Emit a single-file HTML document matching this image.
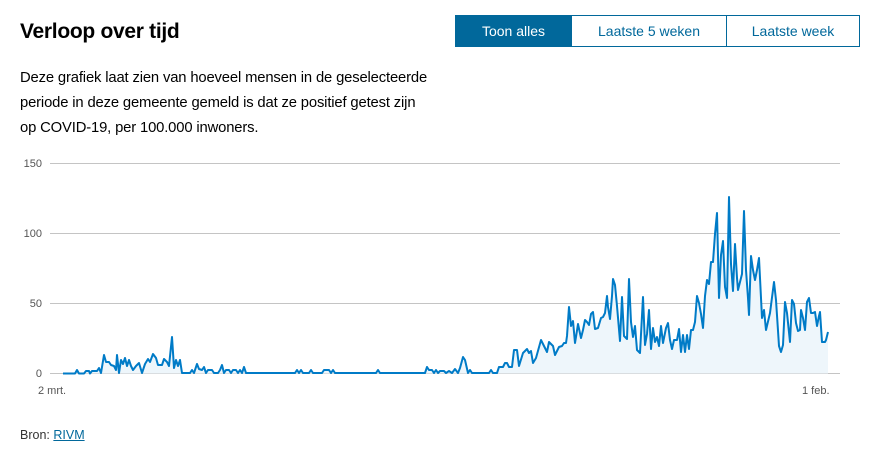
<!DOCTYPE html>
<html><head><meta charset="utf-8"><style>
body{margin:0;width:873px;height:455px;background:#fff;font-family:"Liberation Sans",sans-serif;position:relative;overflow:hidden;color:#000}
.t{position:absolute;left:20px;top:20px;font-size:21px;font-weight:bold;letter-spacing:-0.3px}
.btns{position:absolute;left:455px;top:15px;width:405px;height:32px;border:1px solid #01689b;box-sizing:border-box;display:flex}
.btns div{font-size:14px;color:#01689b;display:flex;align-items:center;justify-content:center;border-right:1px solid #01689b}
.btns div:last-child{border-right:none}
.p{position:absolute;left:20px;top:66px;font-size:14.8px;line-height:25px;letter-spacing:-0.15px;color:#000}
.src{position:absolute;left:20px;top:428px;font-size:12.5px;color:#333}
.src a{color:#01689b;text-decoration:underline}
</style></head><body>
<div class="t">Verloop over tijd</div>
<div class="btns"><div style="width:115px;background:#01689b;color:#fff">Toon alles</div><div style="width:154px">Laatste 5 weken</div><div style="flex:1">Laatste week</div></div>
<div class="p">Deze grafiek laat zien van hoeveel mensen in de geselecteerde<br>periode in deze gemeente gemeld is dat ze positief getest zijn<br>op COVID-19, per 100.000 inwoners.</div>
<svg width="873" height="455" style="position:absolute;left:0;top:0">
<g stroke="#c4c4c4" stroke-width="1">
<line x1="50" x2="840" y1="163.5" y2="163.5"/><line x1="50" x2="840" y1="233.5" y2="233.5"/><line x1="50" x2="840" y1="303.5" y2="303.5"/><line x1="50" x2="840" y1="373.5" y2="373.5"/>
</g>
<g font-size="11" fill="#555" text-anchor="end" font-family="Liberation Sans, sans-serif">
<text x="42" y="167">150</text><text x="42" y="237">100</text><text x="42" y="307">50</text><text x="42" y="377">0</text>
</g>
<text x="38" y="394" font-size="11" fill="#555">2 mrt.</text>
<text x="802" y="394" font-size="11" fill="#555">1 feb.</text>
<polyline fill="#eef6fb" stroke="none" points="63,373.5 75,373.5 77,370 79,373.5 84,373.5 86,371 89,371 90,373.5 92,371 97,371 99,368 101,373 104,355 106,362 109,362 111,365 114,366 116,370 117,355 119,373 121,360 123,364 125,358 127,366 129,360 131,366 133,370 136,366 139,363 142,373 145,364 148,359 150,362 153,354 156,358 158,365 162,365 164,359 167,362 169,366 172,337 174,368 176,360 178,366 180,360 182,373 190,373 192,370 194,373 197,364 199,369 202,370 204,367 206,373 208,370 212,370 214,373 218,373 220,370 222,365 224,373 226,370 229,370 231,373 233,370 236,370 238,373 240,370 242,373 244,367 246,373 295,373 297,370 299,373 301,370 303,373 309,373 311,370 313,373 322,373 324,370 329,370 331,373 333,370 335,373 376,373 378,370 380,373 425,373 427,367 429,370 432,370 434,373 436,370 438,373 440,371 444,371 446,373 449,371 452,373 455,369 458,373 460,368 463,357 465,360 468,373 470,370 472,373 489,373 491,370 493,373 497,373 499,367 503,367 505,363 507,363 509,367 512,367 514,350 517,350 519,366 523,353 525,351 527,349 529,353 531,351 533,363 536,358 541,340 543,344 547,352 549,342 553,346 555,355 559,347 562,346 564,343 566,343 567,336 569,307 571,326 573,321 575,343 576,337 578,324 581,338 583,330 585,320 587,322 589,325 591,314 593,312 595,329 598,328 601,318 603,317 605,313 607,296 608,307 610,319 612,296 613,279 615,285 617,306 620,341 622,297 624,336 627,339 629,279 631,322 633,337 635,326 637,350 640,353 643,297 645,345 647,334 649,310 651,349 653,328 655,342 657,337 659,346 661,326 663,343 666,328 668,323 670,340 672,349 674,340 677,340 679,329 681,352 683,335 685,352 687,335 689,349 691,330 693,330 695,322 697,296 699,303 701,314 703,328 705,296 707,280 709,284 711,262 713,262 715,234 717,213 719,298 721,255 723,241 725,287 727,298 729,197 731,264 733,291 735,244 737,278 738,290 740,282 742,274 744,211 746,270 748,298 749,315 751,256 753,270 755,280 757,270 759,258 762,318 764,310 766,330 770,313 774,282 776,300 779,346 781,352 783,345 785,302 787,313 790,342 792,300 794,304 796,323 798,331 800,330 801,310 803,318 805,330 807,302 809,298 811,313 813,313 815,312 817,326 819,316 820,312 822,342 825,342 826,340 828,332 828,373.5"/>
<polyline fill="none" stroke="#007bc7" stroke-width="2" stroke-linejoin="round" points="63,373.5 75,373.5 77,370 79,373.5 84,373.5 86,371 89,371 90,373.5 92,371 97,371 99,368 101,373 104,355 106,362 109,362 111,365 114,366 116,370 117,355 119,373 121,360 123,364 125,358 127,366 129,360 131,366 133,370 136,366 139,363 142,373 145,364 148,359 150,362 153,354 156,358 158,365 162,365 164,359 167,362 169,366 172,337 174,368 176,360 178,366 180,360 182,373 190,373 192,370 194,373 197,364 199,369 202,370 204,367 206,373 208,370 212,370 214,373 218,373 220,370 222,365 224,373 226,370 229,370 231,373 233,370 236,370 238,373 240,370 242,373 244,367 246,373 295,373 297,370 299,373 301,370 303,373 309,373 311,370 313,373 322,373 324,370 329,370 331,373 333,370 335,373 376,373 378,370 380,373 425,373 427,367 429,370 432,370 434,373 436,370 438,373 440,371 444,371 446,373 449,371 452,373 455,369 458,373 460,368 463,357 465,360 468,373 470,370 472,373 489,373 491,370 493,373 497,373 499,367 503,367 505,363 507,363 509,367 512,367 514,350 517,350 519,366 523,353 525,351 527,349 529,353 531,351 533,363 536,358 541,340 543,344 547,352 549,342 553,346 555,355 559,347 562,346 564,343 566,343 567,336 569,307 571,326 573,321 575,343 576,337 578,324 581,338 583,330 585,320 587,322 589,325 591,314 593,312 595,329 598,328 601,318 603,317 605,313 607,296 608,307 610,319 612,296 613,279 615,285 617,306 620,341 622,297 624,336 627,339 629,279 631,322 633,337 635,326 637,350 640,353 643,297 645,345 647,334 649,310 651,349 653,328 655,342 657,337 659,346 661,326 663,343 666,328 668,323 670,340 672,349 674,340 677,340 679,329 681,352 683,335 685,352 687,335 689,349 691,330 693,330 695,322 697,296 699,303 701,314 703,328 705,296 707,280 709,284 711,262 713,262 715,234 717,213 719,298 721,255 723,241 725,287 727,298 729,197 731,264 733,291 735,244 737,278 738,290 740,282 742,274 744,211 746,270 748,298 749,315 751,256 753,270 755,280 757,270 759,258 762,318 764,310 766,330 770,313 774,282 776,300 779,346 781,352 783,345 785,302 787,313 790,342 792,300 794,304 796,323 798,331 800,330 801,310 803,318 805,330 807,302 809,298 811,313 813,313 815,312 817,326 819,316 820,312 822,342 825,342 826,340 828,332"/>
</svg>
<div class="src">Bron: <a>RIVM</a></div>
</body></html>
